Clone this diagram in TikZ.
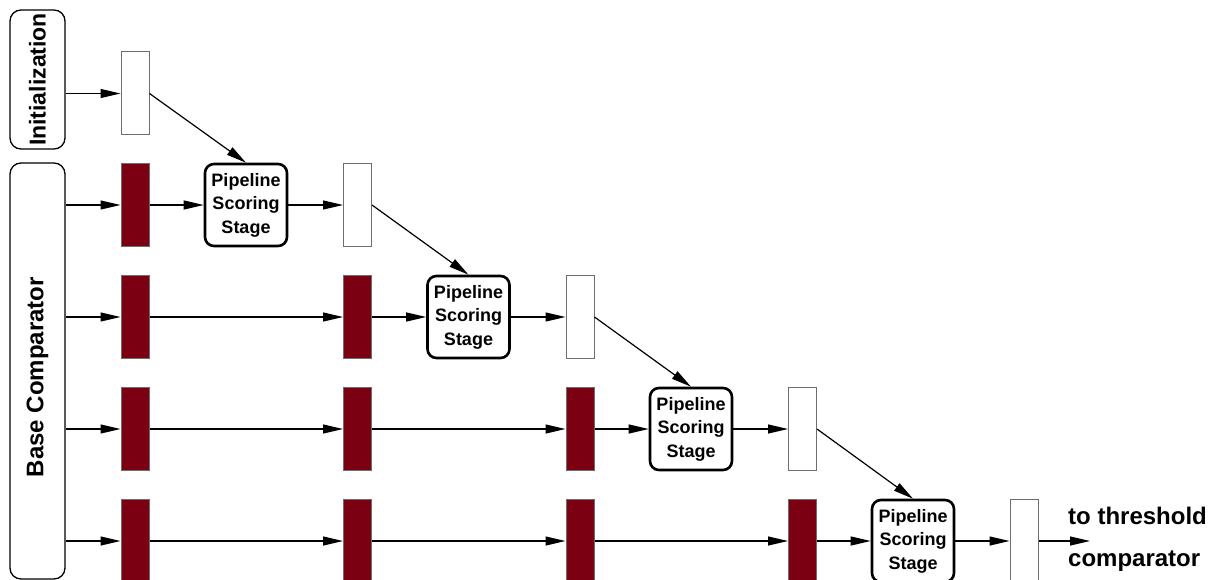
\documentclass[tikz,border=0pt]{standalone}
\usepackage{fontspec}
\setmainfont{Liberation Sans}
\usetikzlibrary{arrows.meta}
\definecolor{regred}{RGB}{122,0,18}
\definecolor{reggray}{RGB}{110,110,110}
\tikzset{
  reg/.style={draw=reggray, line width=1pt, minimum width=28pt, minimum height=83pt, inner sep=0pt},
  wreg/.style={reg, fill=white},
  dreg/.style={reg, fill=regred},
  stage/.style={draw=black, line width=2.6pt, rounded corners=9pt, minimum width=82pt, minimum height=82pt,
    inner sep=0pt, align=center, font=\fontsize{18}{23.5}\selectfont\bfseries},
  side/.style={draw=black, line width=1.3pt, rounded corners=11pt, inner sep=0pt},
  lab/.style={font=\fontsize{24}{28}\selectfont\bfseries, inner sep=0pt},
  arr/.style={line width=1.2pt, -{Triangle[length=20pt,width=9pt]}}
}
\begin{document}
\begin{tikzpicture}[x=1pt,y=-1pt]
\useasboundingbox (0,0) rectangle (1220,580);
% side boxes
\node[side, minimum width=55pt, minimum height=139pt] (init) at (37.5,79.5) {};
\node[lab, rotate=90, font=\fontsize{23}{27}\selectfont\bfseries] (initlab) at (init.center) {Initialization};
\node[side, minimum width=55pt, minimum height=416pt] (base) at (37.5,371) {};
\node[lab, rotate=90] (baselab) at ([yshift=-6pt]base.center) {Base Comparator};
% initial register
\node[wreg] (w0) at (135,93.5) {};
\draw[arr] (init.east |- w0.west) -- (w0.west);
% rows
\foreach \r/\y in {1/205,2/317,3/429,4/541}{
  \foreach \c/\x in {1/135,2/357.5,3/580,4/802.5,5/1024}{
    \ifnum\c>\r\relax\else
      \node[dreg] (d\r\c) at (\x,\y) {};
    \fi
  }
}
% pipeline stages and output registers
\node[stage] (p1) at (246,205) {Pipeline\\Scoring\\Stage};
\node[stage] (p2) at (468.5,317) {Pipeline\\Scoring\\Stage};
\node[stage] (p3) at (691,429) {Pipeline\\Scoring\\Stage};
\node[stage] (p4) at (913,541) {Pipeline\\Scoring\\Stage};
\node[wreg] (w1) at (357.5,205) {};
\node[wreg] (w2) at (580,317) {};
\node[wreg] (w3) at (802.5,429) {};
\node[wreg] (w4) at (1024,541) {};
% base comparator to first registers
\foreach \r in {1,2,3,4}{
  \draw[arr] (base.east |- d\r1.west) -- (d\r1.west);
}
% register chains
\draw[arr] (d21.east) -- (d22.west);
\draw[arr] (d31.east) -- (d32.west);
\draw[arr] (d32.east) -- (d33.west);
\draw[arr] (d41.east) -- (d42.west);
\draw[arr] (d42.east) -- (d43.west);
\draw[arr] (d43.east) -- (d44.west);
% into stages
\draw[arr] (d11.east) -- (p1.west);
\draw[arr] (d22.east) -- (p2.west);
\draw[arr] (d33.east) -- (p3.west);
\draw[arr] (d44.east) -- (p4.west);
% out of stages
\draw[arr] (p1.east) -- (w1.west);
\draw[arr] (p2.east) -- (w2.west);
\draw[arr] (p3.east) -- (w3.west);
\draw[arr] (p4.east) -- (w4.west);
% diagonals
\draw[arr] (w0.east) -- (p1.north);
\draw[arr] (w1.east) -- (p2.north);
\draw[arr] (w2.east) -- (p3.north);
\draw[arr] (w3.east) -- (p4.north);
% output
\coordinate (out) at (1090,541);
\draw[arr] (w4.east) -- (out);
\node[lab, anchor=base west] (t1) at (1068,524) {to threshold};
\node[lab, anchor=base west] (t2) at (1068,566) {comparator};
\end{tikzpicture}
\end{document}
